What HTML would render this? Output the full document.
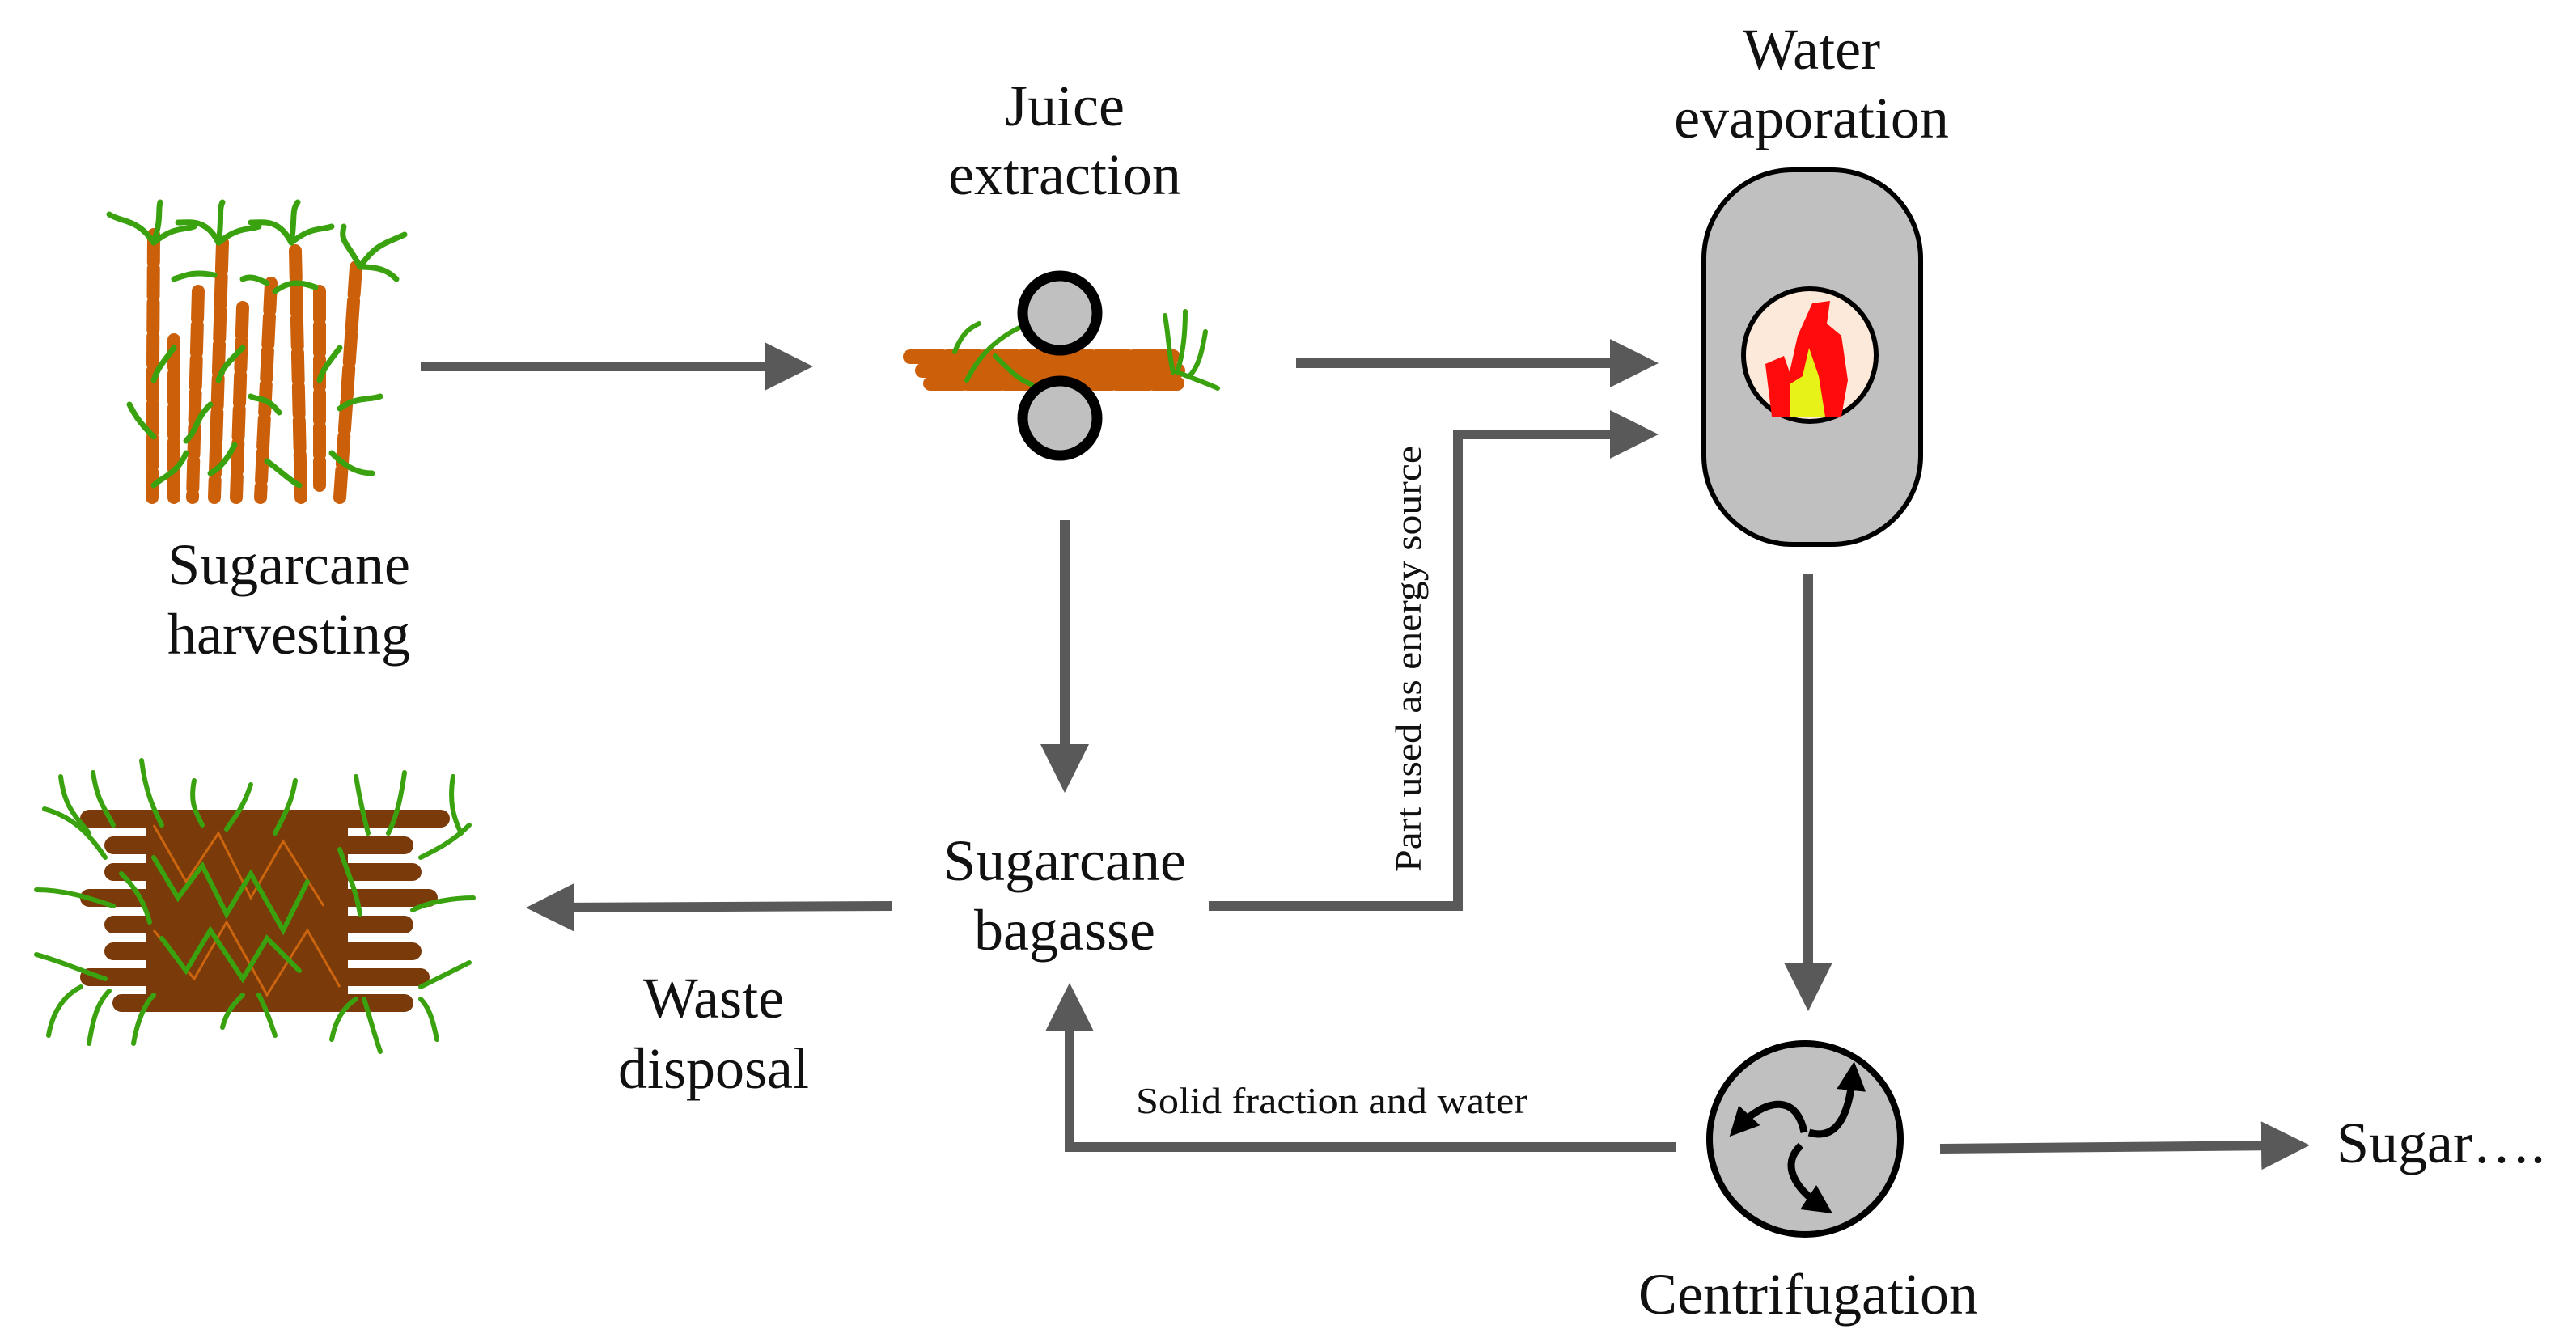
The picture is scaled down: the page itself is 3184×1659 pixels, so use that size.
<!DOCTYPE html>
<html><head><meta charset="utf-8"><style>
html,body{margin:0;padding:0;background:#fff;}
svg{display:block;}
text{font-family:"Liberation Serif",serif;fill:#111;}
</style></head><body>
<svg width="3184" height="1659" viewBox="0 0 3184 1659" xmlns="http://www.w3.org/2000/svg">
<defs>
<marker id="ah" viewBox="0 0 10 10" refX="5" refY="5" markerWidth="5" markerHeight="5" orient="auto" markerUnits="strokeWidth">
<path d="M0,0 L10,5 L0,10 z" fill="#595959"/></marker>
<marker id="bh" viewBox="0 0 10 10" refX="5" refY="5" markerWidth="4" markerHeight="4" orient="auto" markerUnits="strokeWidth">
<path d="M0,0 L10,5 L0,10 z" fill="#000"/></marker>
</defs>

<!-- Sugarcane plants -->
<g stroke="#cc5f0a" stroke-width="16" stroke-linecap="round" stroke-dasharray="34 8" fill="none">
<path d="M190,290 L188,615"/>
<path d="M215,420 L215,615"/>
<path d="M245,360 L238,615"/>
<path d="M275,300 L265,615"/>
<path d="M300,380 L292,615"/>
<path d="M335,350 L322,615"/>
<path d="M365,310 L372,615"/>
<path d="M395,360 L395,600"/>
<path d="M440,330 L420,615"/>
</g>
<g stroke="#3aa10f" stroke-width="7" stroke-linecap="round" fill="none">
<path d="M190,300 C170,270 150,275 135,265"/><path d="M190,300 C200,270 195,260 198,250"/><path d="M190,300 C215,280 225,285 240,280"/>
<path d="M270,300 C255,270 235,275 220,275"/><path d="M270,300 C275,270 270,260 275,250"/><path d="M270,300 C295,280 305,285 320,280"/>
<path d="M360,300 C345,270 325,275 310,275"/><path d="M360,300 C365,270 360,260 368,250"/><path d="M360,300 C385,280 395,285 410,280"/>
<path d="M445,330 C430,300 420,300 425,280"/><path d="M445,330 C465,300 480,300 500,290"/><path d="M445,330 C470,330 480,335 490,345"/>
<path d="M265,340 C240,335 230,340 215,345"/><path d="M340,360 C360,345 375,350 390,355"/><path d="M300,345 C310,340 320,345 330,350"/>
<path d="M215,430 C200,450 195,455 190,470"/><path d="M300,430 C280,450 275,455 270,470"/><path d="M420,430 C405,450 400,455 395,470"/>
<path d="M190,540 C170,520 165,510 160,500"/><path d="M260,500 C240,520 245,530 230,545"/><path d="M345,510 C330,490 320,495 310,490"/><path d="M420,505 C440,490 455,495 470,490"/>
<path d="M230,560 C220,585 200,590 190,600"/><path d="M330,570 C350,585 360,595 370,600"/><path d="M410,560 C430,580 445,585 460,585"/><path d="M290,550 C280,570 270,580 260,585"/>
</g>

<!-- Bagasse pile -->
<g stroke="#7a3a0a" stroke-width="22" stroke-linecap="round" fill="none">
<path d="M110,1012 L545,1012"/><path d="M140,1045 L500,1045"/><path d="M140,1078 L510,1078"/>
<path d="M110,1110 L530,1110"/><path d="M140,1143 L500,1143"/><path d="M140,1176 L510,1176"/>
<path d="M110,1208 L520,1208"/><path d="M150,1240 L500,1240"/>
</g>
<rect x="180" y="1005" width="250" height="240" fill="#7a3a0a"/>
<g stroke="#e07010" stroke-width="3" fill="none" opacity="0.8">
<path d="M190,1020 L230,1090 L270,1030 L310,1110 L350,1040 L400,1120"/>
<path d="M190,1150 L240,1210 L280,1140 L330,1230 L380,1150 L420,1220"/>
</g>
<g stroke="#3aa10f" stroke-width="6" stroke-linecap="round" fill="none">
<path d="M75,960 C80,1000 95,1010 110,1030"/><path d="M115,955 C120,990 130,1000 140,1020"/><path d="M175,940 C180,980 190,1000 200,1020"/>
<path d="M240,965 C235,990 240,1000 250,1020"/><path d="M310,970 C300,1000 290,1010 280,1025"/><path d="M365,965 C360,995 350,1010 340,1030"/>
<path d="M440,960 C445,990 450,1010 455,1030"/><path d="M500,955 C495,990 490,1010 480,1030"/><path d="M560,960 C555,990 560,1010 570,1030"/>
<path d="M55,1000 C90,1010 110,1030 130,1060"/><path d="M580,1020 C560,1040 540,1050 520,1060"/>
<path d="M45,1100 C80,1100 110,1110 140,1120"/><path d="M585,1110 C560,1110 530,1115 510,1125"/>
<path d="M45,1180 C80,1190 100,1200 130,1210"/><path d="M580,1190 C560,1200 540,1210 520,1220"/>
<path d="M60,1280 C65,1250 80,1230 100,1220"/><path d="M110,1290 C115,1260 120,1240 135,1225"/><path d="M165,1290 C170,1260 180,1240 190,1230"/>
<path d="M275,1270 C280,1250 290,1240 300,1230"/><path d="M340,1280 C330,1250 325,1240 320,1230"/><path d="M410,1285 C415,1260 425,1245 440,1235"/>
<path d="M470,1300 C460,1270 455,1250 450,1235"/><path d="M540,1285 C535,1260 530,1245 520,1235"/>
<path d="M190,1060 L220,1110 L250,1070 L280,1130 L310,1080 L350,1150 L380,1090"/>
<path d="M200,1160 L230,1200 L260,1150 L300,1210 L330,1160 L370,1200"/>
<path d="M420,1050 C430,1080 440,1100 445,1130"/><path d="M150,1080 C170,1100 180,1120 185,1140"/>
</g>

<!-- Juice extraction -->
<g stroke="#cc5f0a" stroke-width="18" stroke-linecap="round" stroke-dasharray="40 6" fill="none">
<path d="M1125,441 L1450,441"/><path d="M1140,458 L1460,458"/><path d="M1150,474 L1455,474"/>
</g>
<g stroke="#3aa10f" stroke-width="6" stroke-linecap="round" fill="none">
<path d="M1180,435 C1190,410 1200,405 1210,400"/><path d="M1195,470 C1210,440 1230,420 1260,405"/><path d="M1230,440 C1250,460 1260,470 1275,475"/>
<path d="M1440,390 C1445,420 1445,440 1450,460"/><path d="M1465,385 C1465,420 1460,445 1455,460"/><path d="M1490,410 C1485,440 1480,455 1470,465"/><path d="M1455,460 C1480,470 1495,475 1505,480"/>
</g>
<circle cx="1310" cy="387" r="46" fill="#c0c0c0" stroke="#000" stroke-width="13"/>
<circle cx="1310" cy="517" r="46" fill="#c0c0c0" stroke="#000" stroke-width="13"/>

<!-- Evaporator -->
<rect x="2106" y="210" width="268" height="463" rx="110" ry="110" fill="#c0c0c0" stroke="#000" stroke-width="6"/>
<circle cx="2237" cy="439" r="82" fill="#fde9d9" stroke="#000" stroke-width="6"/>
<path d="M2190,515 L2182,450 L2205,440 L2212,460 L2222,415 L2240,375 L2262,372 L2258,400 L2276,415 L2284,470 L2276,515 Z" fill="#ff0b0b"/>
<path d="M2213,515 L2212,475 L2228,465 L2236,430 L2248,465 L2256,515 Z" fill="#e6f218"/>

<!-- Centrifuge -->
<circle cx="2231" cy="1408" r="118" fill="#c0c0c0" stroke="#000" stroke-width="8"/>
<g stroke="#000" stroke-width="9" fill="none">
<path d="M2230,1400 C2220,1350 2180,1360 2150,1392" marker-end="url(#bh)"/>
<path d="M2236,1400 C2270,1410 2285,1380 2290,1330" marker-end="url(#bh)"/>
<path d="M2226,1416 C2200,1440 2220,1470 2250,1490" marker-end="url(#bh)"/>
</g>

<!-- Connectors -->
<g stroke="#595959" stroke-width="12" fill="none">
<path d="M520,453 L975,453" marker-end="url(#ah)"/>
<path d="M1602,449 L2020,449" marker-end="url(#ah)"/>
<path d="M1494,1120 L1802,1120 L1802,537 L2020,537" marker-end="url(#ah)"/>
<path d="M1316,643 L1316,950" marker-end="url(#ah)"/>
<path d="M1102,1120 L680,1122" marker-end="url(#ah)"/>
<path d="M2235,710 L2235,1220" marker-end="url(#ah)"/>
<path d="M2398,1420 L2825,1416" marker-end="url(#ah)"/>
<path d="M2072,1418 L1322,1418 L1322,1245" marker-end="url(#ah)"/>
</g>

<!-- Labels -->
<g font-size="72" text-anchor="middle">
<text x="1316" y="155">Juice</text>
<text x="1316" y="240">extraction</text>
<text x="2239" y="85">Water</text>
<text x="2239" y="170">evaporation</text>
<text x="357" y="722">Sugarcane</text>
<text x="357" y="808">harvesting</text>
<text x="1316" y="1088">Sugarcane</text>
<text x="1316" y="1174">bagasse</text>
<text x="882" y="1258">Waste</text>
<text x="882" y="1345">disposal</text>
<text x="2235" y="1624">Centrifugation</text>
</g>
<text x="2888" y="1437" font-size="72">Sugar….</text>
<text x="1404" y="1376" font-size="46" textLength="484" lengthAdjust="spacingAndGlyphs">Solid fraction and water</text>
<text transform="translate(1756,1078) rotate(-90)" font-size="46" textLength="527" lengthAdjust="spacingAndGlyphs">Part used as energy source</text>
</svg>
</body></html>
